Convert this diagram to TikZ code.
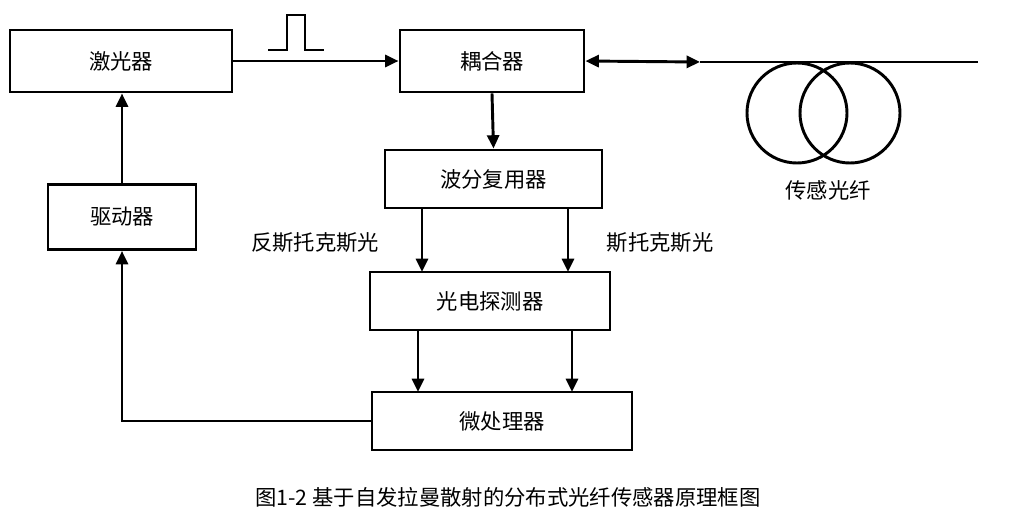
\documentclass[tikz,border=0pt]{standalone}
\usepackage{fontspec}
\newfontfamily\cjk{Noto Sans CJK SC}
\usetikzlibrary{arrows.meta}
\begin{document}
\begin{tikzpicture}[x=0.75pt,y=-0.75pt,
  box/.style={draw,line width=2.2pt,minimum width=#1,font=\cjk\fontsize{16}{16}\selectfont,inner sep=0pt},
  ar/.style={line width=2.2pt,-{Triangle[length=10pt,width=9pt]}},
  lab/.style={font=\cjk\fontsize{16}{16}\selectfont}]
\useasboundingbox (0,0) rectangle (1015,529);
\node[box=222pt*0.75,minimum height=46.5pt] (laser) at (121,61) {激光器};
\node[box=184pt*0.75,minimum height=46.5pt] (coup) at (492,61) {耦合器};
\node[box=217pt*0.75,minimum height=43.5pt] (wdm) at (493.5,179) {波分复用器};
\node[box=240pt*0.75,minimum height=43.5pt] (pd) at (490,301) {光电探测器};
\node[box=260pt*0.75,minimum height=43.5pt] (mp) at (502,421) {微处理器};
\node[box=148pt*0.75,minimum height=48.75pt] (drv) at (122,217) {驱动器};
\draw[ar] (laser.east) -- (coup.west);
\draw[line width=1.8pt] (268,50) -- (287,50) -- (287,15) -- (305,15) -- (305,50) -- (324,50);
\coordinate (f1) at (700,62);
\coordinate (f2) at (978,62);
\draw[line width=2.2pt,{Triangle[length=10pt,width=9pt]}-{Triangle[length=10pt,width=9pt]}] (coup.east) -- (f1);
\draw[line width=2.2pt] (f1) -- (f2);
\draw[line width=2.2pt] (797,113) circle (50) (850,113) circle (50);
\node[lab] (fl) at (828,190) {传感光纤};
\draw[ar] (coup.south) -- (wdm.north);
\draw[ar] (422,208) -- (422,272);
\draw[ar] (568,208) -- (568,272);
\node[lab] (as) at (315,243) {反斯托克斯光};
\node[lab] (s) at (660,243) {斯托克斯光};
\draw[ar] (418,330) -- (418,392);
\draw[ar] (572,330) -- (572,392);
\draw[ar] (mp.west) -| (drv.south);
\draw[ar] (drv.north) -- (laser.south -| drv.north);
\node[lab] (cap) at (508,497) {图1-2 基于自发拉曼散射的分布式光纤传感器原理框图};
\end{tikzpicture}
\end{document}
